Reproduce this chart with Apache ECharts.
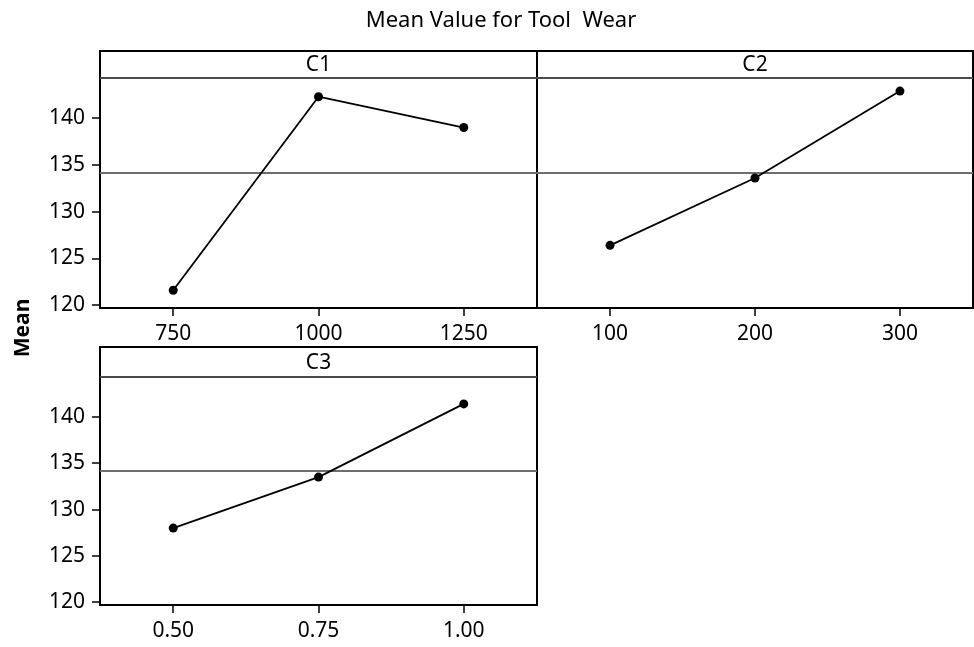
<!DOCTYPE html>
<html>
<head>
<meta charset="utf-8">
<script src="https://cdn.jsdelivr.net/npm/echarts@6/dist/echarts.min.js"></script>
<style>
html,body{margin:0;padding:0;background:#fff;}
#chart{width:974px;height:647px;}
</style>
</head>
<body>
<div id="chart"></div>
<script>
// ---- data ----
var titleText = 'Mean Value for Tool  Wear';
var yAxisName = 'Mean';
var panelNames = ['C1', 'C2', 'C3'];
var c1Levels = [750, 1000, 1250];
var c1Means = [121.6, 142.3, 139.0];
var c2Levels = [100, 200, 300];
var c2Means = [126.4, 133.6, 142.9];
var c3Levels = [0.50, 0.75, 1.00];
var c3Means = [128.0, 133.5, 141.4];
var grandMean = 134.2;
var yTicks = [120, 125, 130, 135, 140];
var yRange = [119.7, 144.3];
var c1Range = [624, 1376];
var c2Range = [49.6, 350.4];
var c3Range = [0.374, 1.126];

// ---- layout ----
var FONT = 'Noto Sans';
var FS = 21;
var panels = [
  {left: 100, top: 78, width: 437, height: 230, headTop: 51},
  {left: 537, top: 78, width: 436, height: 230, headTop: 51},
  {left: 100, top: 377, width: 437, height: 228, headTop: 347}
];
var levels = [c1Levels, c2Levels, c3Levels];
var means = [c1Means, c2Means, c3Means];
var ranges = [c1Range, c2Range, c3Range];

var chart = echarts.init(document.getElementById('chart'), null, {renderer: 'canvas'});

var grids = [], xAxes = [], yAxes = [], series = [], graphics = [];
panels.forEach(function (p, i) {
  grids.push({left: p.left, top: p.top, width: p.width, height: p.height,
    show: true, borderColor: '#000', borderWidth: 2, backgroundColor: '#fff', containLabel: false});
  xAxes.push({type: 'value', gridIndex: i, min: ranges[i][0], max: ranges[i][1],
    axisLine: {show: false},
    axisTick: {show: true, inside: false, length: 8, lineStyle: {color: '#000', width: 1.5}, customValues: levels[i]},
    axisLabel: {show: true, customValues: levels[i], color: '#000', fontFamily: FONT, fontSize: FS, margin: 16,
      formatter: i === 2 ? function (v) { return v.toFixed(2); } : function (v) { return String(v); }},
    splitLine: {show: false}});
  var showY = (i !== 1);
  yAxes.push({type: 'value', gridIndex: i, min: yRange[0], max: yRange[1],
    axisLine: {show: false},
    axisTick: {show: showY, inside: false, length: 8, lineStyle: {color: '#000', width: 1.5}, customValues: yTicks},
    axisLabel: {show: showY, customValues: yTicks, color: '#000', fontFamily: FONT, fontSize: FS, margin: 15},
    splitLine: {show: false}});
  var pts = levels[i].map(function (x, k) { return [x, means[i][k]]; });
  series.push({type: 'line', xAxisIndex: i, yAxisIndex: i, data: pts,
    symbol: 'circle', symbolSize: 9, itemStyle: {color: '#000'},
    lineStyle: {color: '#000', width: 1.8}, animation: false, z: 5,
    markLine: {silent: true, symbol: 'none', label: {show: false},
      lineStyle: {color: '#6e6e6e', width: 2, type: 'solid'},
      data: [{yAxis: grandMean}], animation: false}});
  // header strip
  graphics.push({type: 'rect', shape: {x: p.left, y: p.headTop, width: p.width, height: p.top - p.headTop},
    style: {fill: '#fff', stroke: '#000', lineWidth: 2}, z: 10});
  graphics.push({type: 'line', shape: {x1: p.left, y1: p.top, x2: p.left + p.width, y2: p.top},
    style: {stroke: '#4a4a4a', lineWidth: 2}, z: 11});
  graphics.push({type: 'text', x: p.left + p.width / 2, y: (p.headTop + p.top) / 2 + 1,
    style: {text: panelNames[i], font: FS + 'px "' + FONT + '"', fill: '#000', align: 'center', verticalAlign: 'middle'}, z: 12});
});

graphics.push({type: 'text', x: 501, y: 21,
  style: {text: titleText, font: '22px "' + FONT + '"', fill: '#000', align: 'center', verticalAlign: 'middle'}});
graphics.push({type: 'text', x: 23, y: 328, rotation: Math.PI / 2,
  style: {text: yAxisName, font: 'bold 21px "' + FONT + '"', fill: '#000', align: 'center', verticalAlign: 'middle'}});

chart.setOption({
  animation: false,
  backgroundColor: '#fff',
  grid: grids, xAxis: xAxes, yAxis: yAxes, series: series, graphic: graphics
});
</script>
</body>
</html>
